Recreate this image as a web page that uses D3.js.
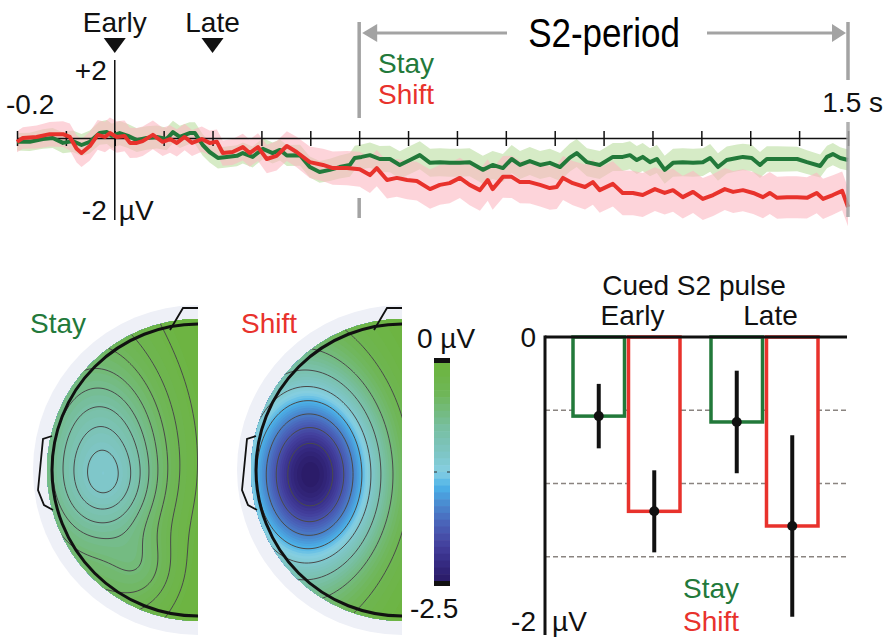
<!DOCTYPE html>
<html>
<head>
<meta charset="utf-8">
<script src="https://cdn.jsdelivr.net/npm/d3@7"></script>
<style>
  body { margin: 0; background: #fff; }
  svg { display: block; font-family: "Liberation Sans", Arial, sans-serif; }
</style>
</head>
<body>
<div id="fig"></div>
<script>
// ERP waveforms: [time (s), amplitude (µV)]
const stayWave = [[-0.2,-0.11],[-0.174,-0.11],[-0.147,-0.03],[-0.127,0.00],[-0.106,-0.14],[-0.086,-0.09],[-0.068,-0.20],[-0.051,-0.11],[-0.031,0.14],[-0.016,0.17],[-0.006,0.06],[0.010,0.14],[0.027,0.06],[0.045,-0.06],[0.065,0.00],[0.086,0.03],[0.106,-0.03],[0.119,0.17],[0.133,0.03],[0.153,0.14],[0.164,0.14],[0.180,-0.20],[0.194,-0.40],[0.211,-0.57],[0.229,-0.54],[0.250,-0.51],[0.262,-0.43],[0.282,-0.54],[0.303,-0.31],[0.323,-0.43],[0.338,-0.34],[0.352,-0.50],[0.379,-0.49],[0.399,-0.83],[0.419,-0.97],[0.440,-0.91],[0.460,-0.83],[0.481,-0.77],[0.491,-0.57],[0.505,-0.54],[0.522,-0.49],[0.542,-0.60],[0.563,-0.60],[0.583,-0.77],[0.604,-0.63],[0.624,-0.49],[0.645,-0.71],[0.665,-0.69],[0.685,-0.71],[0.706,-0.71],[0.726,-0.69],[0.753,-0.91],[0.773,-0.77],[0.794,-0.86],[0.812,-0.60],[0.829,-0.77],[0.849,-0.66],[0.870,-0.77],[0.890,-0.71],[0.911,-0.83],[0.931,-0.56],[0.945,-0.43],[0.966,-0.69],[0.992,-0.77],[1.019,-0.54],[1.039,-0.54],[1.054,-0.49],[1.068,-0.63],[1.080,-0.54],[1.095,-0.69],[1.109,-0.60],[1.125,-0.91],[1.142,-0.71],[1.162,-0.69],[1.183,-0.71],[1.203,-0.69],[1.218,-0.57],[1.234,-0.83],[1.252,-0.63],[1.273,-0.57],[1.285,-0.54],[1.303,-0.57],[1.320,-0.77],[1.334,-0.60],[1.355,-0.60],[1.375,-0.60],[1.396,-0.60],[1.416,-0.69],[1.443,-0.80],[1.457,-0.54],[1.469,-0.46],[1.484,-0.57],[1.500,-0.63]];

const shiftWave = [[-0.2,-0.11],[-0.188,0.00],[-0.160,0.03],[-0.133,0.11],[-0.106,0.11],[-0.092,0.03],[-0.078,-0.31],[-0.068,-0.43],[-0.051,-0.23],[-0.035,0.09],[-0.020,0.03],[-0.010,0.14],[0.004,0.03],[0.020,0.06],[0.031,-0.14],[0.045,-0.14],[0.057,-0.09],[0.078,0.09],[0.098,-0.11],[0.113,-0.03],[0.127,-0.14],[0.143,0.03],[0.158,-0.14],[0.178,-0.03],[0.194,-0.14],[0.209,-0.11],[0.221,-0.43],[0.241,-0.40],[0.262,-0.26],[0.276,-0.43],[0.293,-0.26],[0.311,-0.60],[0.331,-0.51],[0.352,-0.23],[0.372,-0.40],[0.399,-0.69],[0.426,-0.77],[0.446,-0.86],[0.475,-0.86],[0.501,-0.89],[0.522,-1.06],[0.536,-0.86],[0.557,-1.20],[0.577,-1.14],[0.598,-1.20],[0.618,-1.23],[0.645,-1.46],[0.665,-1.34],[0.685,-1.29],[0.706,-1.14],[0.726,-1.34],[0.747,-1.49],[0.763,-1.20],[0.773,-1.46],[0.794,-1.11],[0.812,-1.11],[0.829,-1.26],[0.849,-1.26],[0.870,-1.34],[0.890,-1.43],[0.904,-1.40],[0.917,-1.14],[0.937,-1.29],[0.962,-1.40],[0.978,-1.26],[0.992,-1.49],[1.019,-1.31],[1.039,-1.57],[1.060,-1.57],[1.080,-1.63],[1.105,-1.46],[1.125,-1.57],[1.142,-1.49],[1.162,-1.69],[1.183,-1.54],[1.203,-1.74],[1.224,-1.63],[1.248,-1.46],[1.265,-1.54],[1.285,-1.49],[1.306,-1.57],[1.326,-1.69],[1.340,-1.57],[1.355,-1.71],[1.375,-1.69],[1.396,-1.69],[1.416,-1.71],[1.436,-1.57],[1.449,-1.74],[1.469,-1.63],[1.488,-1.51],[1.500,-1.97]];

// half-width of the shaded bands (µV), read at a few times
const semTimes = [-0.2, 0, 0.2, 0.4, 0.6, 0.8, 1.0, 1.2, 1.4, 1.5];
const staySem  = [0.25, 0.35, 0.3, 0.3, 0.4, 0.4, 0.4, 0.4, 0.35, 0.3];
const shiftSem = [0.3, 0.45, 0.35, 0.45, 0.55, 0.6, 0.65, 0.6, 0.6, 0.55];

const xTicks = d3.range(-2, 16).map(i => i / 10);
const pulseTimes = [0, 0.2];
const pulseNames = ["Early", "Late"];

// topography: gaussian sources [u, v, sigmaU, sigmaV, amplitude µV] in head radii
const stayBlobs = [
  [-0.62, -0.10, 0.30, 0.42, -0.60],
  [-0.80, 0.05, 0.40, 1.10, -0.40],
  [-0.60, 0.12, 0.22, 0.20, -0.18],
  [-0.38, 0.68, 0.16, 0.18, -0.22]
];
const shiftBlobs = [
  [-0.60, 0.03, 0.31, 0.42, -1.95],
  [-0.80, 0.05, 0.42, 0.85, -0.60]
];
const colorStops = [0, -0.35, -0.75, -1.05, -1.25, -1.42, -1.62, -1.85, -2.1, -2.3, -2.5];
const colorRamp = ["#6cb43c", "#6fb658", "#78bfa2", "#7ec6c6", "#86cfe2", "#4cb2e8", "#4a8ad0", "#4a62b8", "#433f9c", "#352a82", "#2a1a66"];

// bar chart
const groups = ["Early", "Late"];
const conds = ["Stay", "Shift"];
const barMeans = [[-0.54, -1.19], [-0.58, -1.29]];
const barErr = [[0.22, 0.28], [0.35, 0.62]];
const gridVals = [-0.5, -1, -1.5];

const green = "#22793a", red = "#e8322c", grey = "#a3a3a3";

const svg = d3.select("#fig").append("svg")
  .attr("width", 883).attr("height", 638);
svg.append("rect").attr("width", 883).attr("height", 638).attr("fill", "#fff");

// ---------------- ERP panel ----------------
const x = d3.scaleLinear().domain([-0.2, 1.5]).range([17, 848]);
const y = d3.scaleLinear().domain([-2, 2]).range([208, 68]);
const stayBand = d3.scaleLinear().domain(semTimes).range(staySem);
const shiftBand = d3.scaleLinear().domain(semTimes).range(shiftSem);

const erp = svg.append("g");

// S2-period bracket
const s0 = x(0.5), s1 = x(1.5);
erp.append("line").attr("x1", s0).attr("x2", s0).attr("y1", 22).attr("y2", 118)
  .attr("stroke", grey).attr("stroke-width", 3.5);
erp.append("line").attr("x1", s0).attr("x2", s0).attr("y1", 198).attr("y2", 218)
  .attr("stroke", grey).attr("stroke-width", 3.5);
erp.append("line").attr("x1", s1).attr("x2", s1).attr("y1", 22).attr("y2", 80)
  .attr("stroke", grey).attr("stroke-width", 3.5);
erp.append("line").attr("x1", s0 + 16).attr("x2", 507).attr("y1", 33).attr("y2", 33)
  .attr("stroke", grey).attr("stroke-width", 3);
erp.append("line").attr("x1", 707).attr("x2", s1 - 14).attr("y1", 33).attr("y2", 33)
  .attr("stroke", grey).attr("stroke-width", 3);
erp.append("path").attr("d", `M${s0 + 3},33 L${s0 + 18},24 L${s0 + 18},42 Z`).attr("fill", grey);
erp.append("path").attr("d", `M${s1 - 2},33 L${s1 - 16},24 L${s1 - 16},42 Z`).attr("fill", grey);
erp.append("text").attr("text-anchor", "middle")
  .attr("transform", "translate(604,47) scale(1,1.15)")
  .style("font-size", "35px").text("S2-period");

// bands
const area = band => d3.area()
  .x(d => x(d[0]))
  .y0(d => y(d[1] - band(d[0])))
  .y1(d => y(d[1] + band(d[0])));
erp.append("path").datum(stayWave).attr("d", area(stayBand))
  .attr("fill", "#d6ebc6");
erp.append("path").datum(shiftWave).attr("d", area(shiftBand))
  .attr("fill", "#fbb7c1").attr("opacity", 0.6);

// x axis with crossing ticks
const xAxis = erp.append("g")
  .attr("transform", `translate(0,${y(0)})`)
  .call(d3.axisBottom(x).tickValues(xTicks).tickSize(8).tickSizeOuter(0).tickFormat(""));
xAxis.select(".domain").attr("stroke", "#111").attr("stroke-width", 1.5);
xAxis.selectAll(".tick line").attr("y1", -7).attr("y2", 8)
  .attr("stroke", "#111").attr("stroke-width", 1.5);

// y axis line
erp.append("line").attr("x1", x(0)).attr("x2", x(0)).attr("y1", 60).attr("y2", 220)
  .attr("stroke", "#111").attr("stroke-width", 1.5);

// waveforms
const line = d3.line().x(d => x(d[0])).y(d => y(d[1]));
erp.append("path").datum(stayWave).attr("d", line)
  .attr("fill", "none").attr("stroke", green).attr("stroke-width", 4)
  .attr("stroke-linejoin", "round");
erp.append("path").datum(shiftWave).attr("d", line)
  .attr("fill", "none").attr("stroke", red).attr("stroke-width", 4)
  .attr("stroke-linejoin", "round");

// end-of-period marker over the traces
erp.append("line").attr("x1", s1).attr("x2", s1).attr("y1", 122).attr("y2", 217)
  .attr("stroke", grey).attr("stroke-width", 3.5).attr("opacity", 0.85);

// labels
const lab = (g, tx, ty, txt, anchor, fill) => g.append("text")
  .attr("x", tx).attr("y", ty).attr("text-anchor", anchor || "start")
  .attr("fill", fill || "#111").style("font-size", "28px").text(txt);

// pulse markers
pulseTimes.forEach((t, i) => {
  const px = x(t);
  erp.append("path").attr("d", `M${px - 11},38 L${px + 11},38 L${px},53 Z`).attr("fill", "#111");
  lab(erp, px, 32, pulseNames[i], "middle");
});

lab(erp, x(0) - 8, y(2) + 12, "+2", "end");
lab(erp, x(0) - 8, 220, "-2", "end");
lab(erp, x(0) + 4, 220, "µV");
lab(erp, 6, 114, "-0.2");
lab(erp, 883, 112, "1.5 s", "end");
lab(erp, 378, 73, "Stay", "start", green);
lab(erp, 378, 104, "Shift", "start", red);

// ---------------- topographies ----------------
const R = 146;
const color = d3.scaleLinear().domain(colorStops).range(colorRamp).clamp(true);
const heads = [
  { label: "Stay", cx: 198, cy: 470, blobs: stayBlobs, step: 0.13, fill: green, lx: 30 },
  { label: "Shift", cx: 402, cy: 470, blobs: shiftBlobs, step: 0.28, fill: red, lx: 241 }
];
const fillLevels = d3.range(-2.6, -0.001, 0.05);
const defs = svg.append("defs");

heads.forEach((h, k) => {
  const g = svg.append("g");
  const field = (px, py) => {
    const u = (px - h.cx) / R, v = (py - h.cy) / R;
    return d3.sum(h.blobs, b =>
      b[4] * Math.exp(-((u - b[0]) ** 2 / (2 * b[2] ** 2) + (v - b[1]) ** 2 / (2 * b[3] ** 2))));
  };
  // light outer halo
  g.append("path")
    .attr("d", `M${h.cx},${h.cy - 165} A165,165 0 0 0 ${h.cx},${h.cy + 165} Z`)
    .attr("fill", "#eef0f7");
  const id = "clip" + k;
  defs.append("clipPath").attr("id", id).append("path")
    .attr("d", `M${h.cx},${h.cy - 151} A151,151 0 0 0 ${h.cx},${h.cy + 151} Z`);

  const res = 2, gx0 = h.cx - 172, gy0 = h.cy - 172, nx = 87, ny = 173;
  const vals = new Array(nx * ny);
  for (let j = 0; j < ny; j++)
    for (let i = 0; i < nx; i++)
      vals[j * nx + i] = field(gx0 + (i + 0.5) * res, gy0 + (j + 0.5) * res);
  const path = d3.geoPath(d3.geoIdentity().scale(res).translate([gx0, gy0]));

  const map = g.append("g").attr("clip-path", `url(#${id})`);
  map.append("rect").attr("x", gx0).attr("y", gy0).attr("width", nx * res).attr("height", ny * res)
    .attr("fill", color(-2.6));
  map.selectAll("path.fill")
    .data(d3.contours().size([nx, ny]).thresholds(fillLevels)(vals))
    .join("path").attr("class", "fill")
    .attr("d", path)
    .attr("fill", d => color(d.value + 0.025));
  const lineLevels = d3.range(1, 10).map(i => -i * h.step);
  map.selectAll("path.iso")
    .data(d3.contours().size([nx, ny]).thresholds(lineLevels)(vals))
    .join("path").attr("class", "iso")
    .attr("d", path)
    .attr("fill", "none").attr("stroke", "#4a4a4a").attr("stroke-width", 1);

  // head outline, ear, nose
  g.append("path")
    .attr("d", `M${h.cx},${h.cy - R} A${R},${R} 0 0 0 ${h.cx},${h.cy + R}`)
    .attr("fill", "none").attr("stroke", "#111").attr("stroke-width", 3);
  const ear = [[-146, -34], [-155, -31], [-160, 20], [-154, 35], [-145, 40]];
  g.append("path")
    .attr("d", d3.line()(ear.map(p => [h.cx + p[0], h.cy + p[1]])))
    .attr("fill", "none").attr("stroke", "#111").attr("stroke-width", 1.8);
  g.append("path")
    .attr("d", `M${h.cx - 28},${h.cy - 140} L${h.cx - 15},${h.cy - 162} L${h.cx},${h.cy - 162}`)
    .attr("fill", "none").attr("stroke", "#111").attr("stroke-width", 1.8);

  lab(g, h.lx, 333, h.label, "start", h.fill);
});

// colour bar
const cbY = d3.scaleLinear().domain([0, -2.5]).range([363, 581]);
const cbSteps = d3.range(0, 32).map(i => -2.5 * i / 32);
const cb = svg.append("g");
cb.selectAll("rect.step").data(cbSteps).join("rect").attr("class", "step")
  .attr("x", 434).attr("width", 16)
  .attr("y", d => cbY(d)).attr("height", (cbY(-2.5) - cbY(0)) / 32 + 0.6)
  .attr("fill", d => color(d - 2.5 / 64));
cb.append("rect").attr("x", 434).attr("y", 358).attr("width", 16).attr("height", 5).attr("fill", "#111");
cb.append("rect").attr("x", 434).attr("y", 581).attr("width", 16).attr("height", 5).attr("fill", "#111");
cb.append("line").attr("x1", 434).attr("x2", 437).attr("y1", cbY(-1.25)).attr("y2", cbY(-1.25)).attr("stroke", "#333");
cb.append("line").attr("x1", 447).attr("x2", 450).attr("y1", cbY(-1.25)).attr("y2", cbY(-1.25)).attr("stroke", "#333");
lab(cb, 417, 348, "0 µV");
lab(cb, 410, 618, "-2.5");

// ---------------- bar chart ----------------
const yb = d3.scaleLinear().domain([-2, 0]).range([630, 337]);
const xg = d3.scaleBand().domain(groups).range([573, 818]).paddingInner(0.2246).paddingOuter(0);
const xc = d3.scaleBand().domain(conds).range([0, xg.bandwidth()]).paddingInner(0.072).paddingOuter(0);
const bars = svg.append("g");

bars.selectAll("line.grid").data(gridVals).join("line").attr("class", "grid")
  .attr("x1", 545).attr("x2", 847)
  .attr("y1", d => yb(d)).attr("y2", d => yb(d))
  .attr("stroke", "#8a8480").attr("stroke-width", 1.5).attr("stroke-dasharray", "5,3");

const barData = [];
groups.forEach((gname, gi) => conds.forEach((c, ci) => barData.push({
  g: gname, c, mean: barMeans[gi][ci], err: barErr[gi][ci]
})));

bars.selectAll("rect.bar").data(barData).join("rect").attr("class", "bar")
  .attr("x", d => xg(d.g) + xc(d.c))
  .attr("width", xc.bandwidth())
  .attr("y", yb(0))
  .attr("height", d => yb(d.mean) - yb(0))
  .attr("fill", "#fff")
  .attr("stroke", d => d.c === "Stay" ? green : red)
  .attr("stroke-width", 3.5);

bars.selectAll("line.err").data(barData).join("line").attr("class", "err")
  .attr("x1", d => xg(d.g) + xc(d.c) + xc.bandwidth() / 2)
  .attr("x2", d => xg(d.g) + xc(d.c) + xc.bandwidth() / 2)
  .attr("y1", d => yb(d.mean + d.err)).attr("y2", d => yb(d.mean - d.err))
  .attr("stroke", "#111").attr("stroke-width", 4);
bars.selectAll("circle.dot").data(barData).join("circle").attr("class", "dot")
  .attr("cx", d => xg(d.g) + xc(d.c) + xc.bandwidth() / 2)
  .attr("cy", d => yb(d.mean)).attr("r", 5).attr("fill", "#111");

// axes
bars.append("line").attr("x1", 545).attr("x2", 847).attr("y1", yb(0)).attr("y2", yb(0))
  .attr("stroke", "#111").attr("stroke-width", 3);
bars.append("line").attr("x1", 545).attr("x2", 545).attr("y1", yb(0) - 1.5).attr("y2", 635)
  .attr("stroke", "#111").attr("stroke-width", 3);

lab(bars, 536, yb(0) + 10, "0", "end");
lab(bars, 536, 631, "-2", "end");
lab(bars, 552, 631, "µV");
lab(bars, 694, 295, "Cued S2 pulse", "middle");
groups.forEach(gname => lab(bars, xg(gname) + xg.bandwidth() / 2 + 6, 325, gname, "middle"));
lab(bars, 683, 598, "Stay", "start", green);
lab(bars, 683, 631, "Shift", "start", red);
</script>
</body>
</html>
